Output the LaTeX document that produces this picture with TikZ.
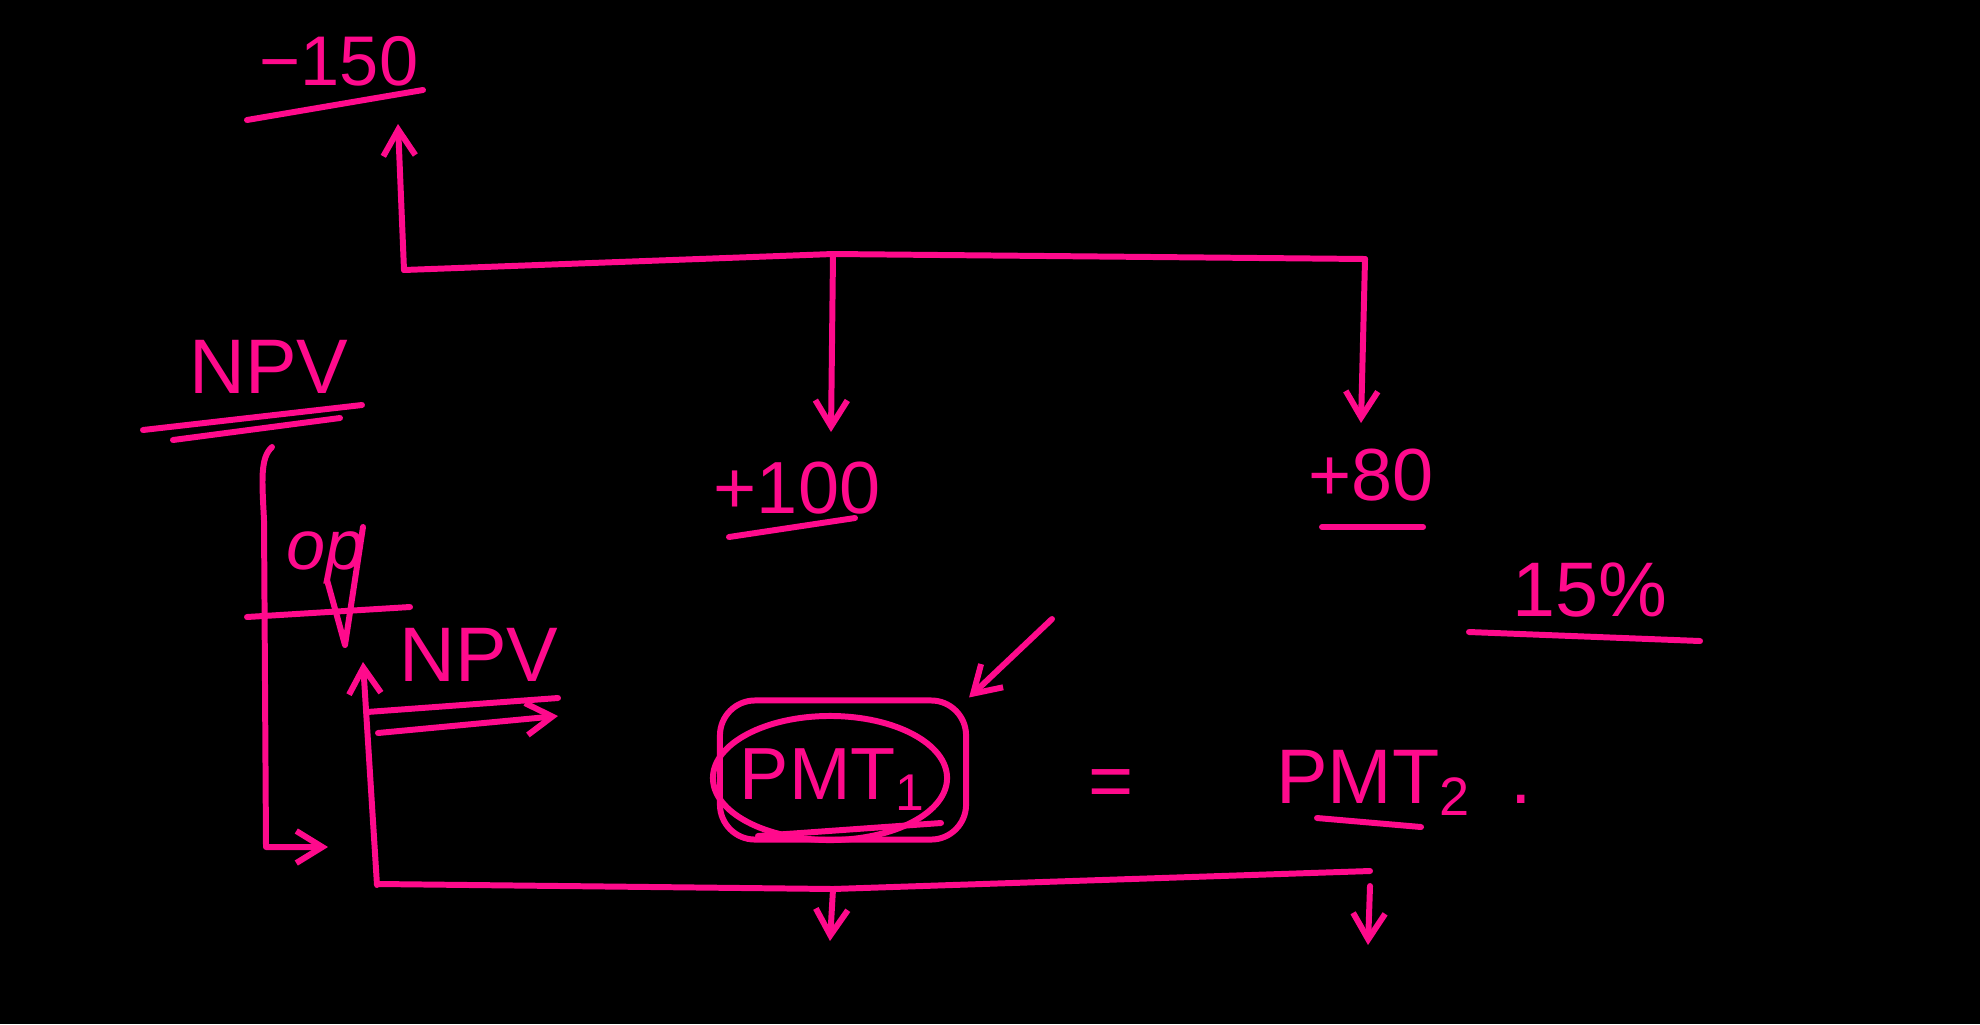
\documentclass[tikz,border=0pt]{standalone}
\usepackage{fontspec}
\setmainfont{Liberation Sans}
\usetikzlibrary{arrows.meta,positioning,shapes.geometric}
\definecolor{hot}{RGB}{255,10,140}
\tikzset{
  >={Straight Barb[length=2.6mm,width=3.2mm]},
  pen/.style={draw=hot,line width=1.7pt,line cap=round,line join=round},
  cash/.style={pen,->},
  amt/.style={text=hot,inner sep=1pt,font=\fontsize{#1}{#1}\selectfont},
  amt/.default=21,
}

\begin{document}
\begin{tikzpicture}[x=0.01cm,y=-0.01cm]
  \fill[black] (0,0) rectangle (1980,1024);
  \useasboundingbox (0,0) rectangle (1980,1024);

  % top cash flow line
  \coordinate (t0) at (404,270);
  \coordinate (t1) at (833,254);
  \coordinate (t2) at (1365,259);
  \draw[pen] (t0) -- (t1) -- (t2);

  \node[amt=20] (c0) at (339,61) {−150};
  \draw[pen] (247,120) -- (423,90);
  \coordinate (a0) at (398,124);
  \draw[cash] (t0) -- (a0);

  \coordinate (a1) at (831,432);
  \coordinate (a2) at (1361,423);
  \draw[cash] (t1) -- (a1);
  \draw[cash] (t2) -- (a2);
  \node[amt] (c1) at (797,488) {+100};
  \draw[pen] (729,537) -- (855,518);
  \node[amt] (c2) at (1371,475) {+80};
  \draw[pen] (1322,527) -- (1423,527);

  \node[amt=22] (rate) at (1590,590) {15\%};
  \draw[pen] (1469,632) -- (1700,641);

  % left side
  \node[amt=22] (npv1) at (269,367) {NPV};
  \draw[pen] (143,430) -- (362,405);
  \draw[pen] (173,440) -- (340,418);
  \coordinate (k0) at (272,447);
  \coordinate (k1) at (266,847);
  \coordinate (k2) at (328,847);
  \draw[cash] (k0) .. controls (260,458) and (262,480) .. (264,520) -- (k1) -- (k2);

  \node[amt=20,font=\fontsize{20}{20}\selectfont\itshape] (op) at (326,558) {op};
  \draw[pen] (247,617) -- (410,607);
  \draw[pen] (327,580) -- (345,645) -- (363,527);

  \node[amt=22] (npv2) at (479,655) {NPV};
  \coordinate (u0) at (377,885);
  \coordinate (u1) at (363,662);
  \draw[cash] (u0) -- (u1);
  \draw[pen] (367,712) -- (558,698);
  \draw[cash] (378,733) -- (558,716);

  % bottom cash flow line
  \coordinate (b0) at (379,884);
  \coordinate (b1) at (833,889);
  \coordinate (b2) at (1370,871);
  \draw[pen] (b0) -- (b1) -- (b2);
  \coordinate (d1) at (830,941);
  \coordinate (d2) at (1368,945);
  \draw[cash] (b1) -- (d1);
  \draw[cash] ([yshift=-0.15cm]b2) -- (d2);

  % payments
  \node[amt=21] (pmt1) at (833,780) {PMT\textsubscript{1}};
  \node[pen,ellipse,minimum width=2.34cm,minimum height=1.24cm] (oval) at (830,778) {};
  \node[pen,rounded corners=0.35cm,minimum width=2.46cm,minimum height=1.39cm] (ring) at (843,770) {};
  \draw[pen] (758,836) -- (941,823);
  \coordinate (p0) at (1052,619);
  \draw[cash] (p0) -- (ring.north east);

  \node[amt=22] (eq) at (1111,789) {=};
  \node[amt=22] (pmt2) at (1404,783) {PMT\textsubscript{2}\hspace{0.5em}.};
  \draw[pen] (1317,818) -- (1421,827);
\end{tikzpicture}
\end{document}
